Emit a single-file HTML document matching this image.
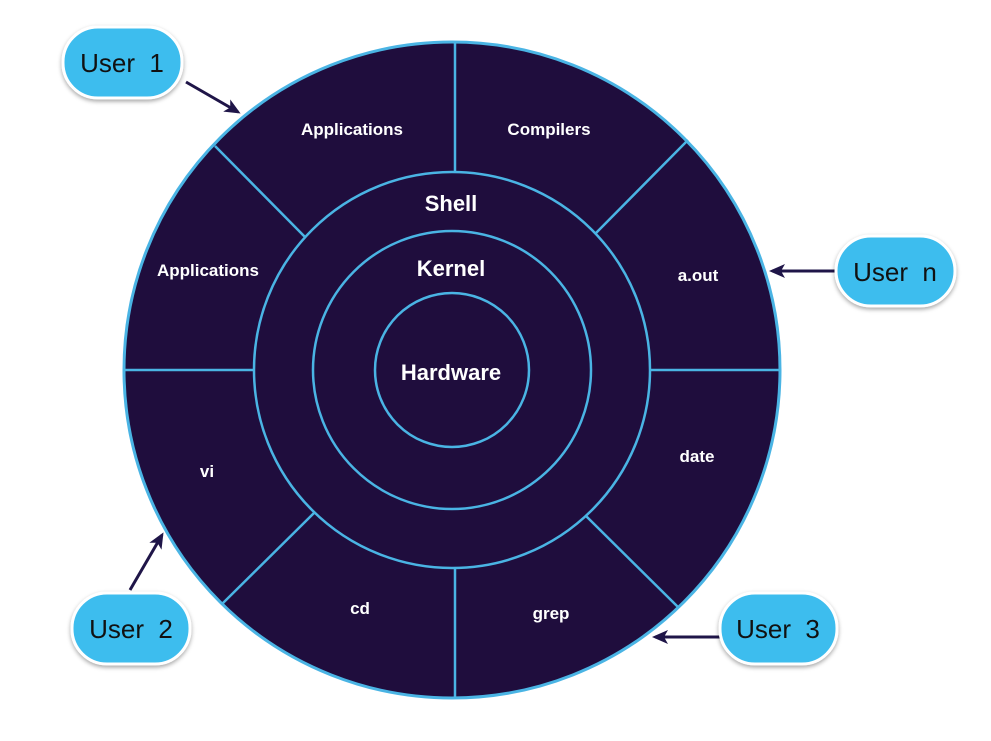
<!DOCTYPE html>
<html><head><meta charset="utf-8"><style>
html,body{margin:0;padding:0;background:#fff;}
svg{display:block}
text{font-family:"Liberation Sans",sans-serif;}
</style></head><body>
<svg width="991" height="741" viewBox="0 0 991 741" xmlns="http://www.w3.org/2000/svg">
<defs>
<marker id="ah" markerWidth="16" markerHeight="14" refX="13" refY="7" orient="auto" markerUnits="userSpaceOnUse">
<path d="M0,0 L16,7 L0,14 L4,7 Z" fill="#1f1548"/>
</marker>
<filter id="sh" x="-20%" y="-20%" width="140%" height="150%"><feDropShadow dx="0" dy="2" stdDeviation="2" flood-color="#000" flood-opacity="0.35"/></filter>
</defs>
<circle cx="452" cy="370" r="328" fill="#1f0d3d" stroke="#4ab4e4" stroke-width="3"/>
<g stroke="#4ab4e4" stroke-width="2.5" fill="none">
<circle cx="452" cy="370" r="198"/>
<circle cx="452" cy="370" r="139"/>
<circle cx="452" cy="370" r="77"/>
<line x1="455" y1="42" x2="455" y2="172"/>
<line x1="455" y1="568" x2="455" y2="698"/>
<line x1="124" y1="370" x2="254" y2="370"/>
<line x1="650" y1="370" x2="780" y2="370"/>
<line x1="215" y1="146" x2="305" y2="237"/>
<line x1="688" y1="140" x2="595" y2="234"/>
<line x1="222" y1="604" x2="315" y2="512"/>
<line x1="679" y1="608" x2="586" y2="516"/>
</g>
<g fill="#fff" font-weight="bold" text-anchor="middle">
<text x="352" y="135" font-size="17">Applications</text>
<text x="549" y="135" font-size="17">Compilers</text>
<text x="208" y="276" font-size="17">Applications</text>
<text x="698" y="281" font-size="17">a.out</text>
<text x="207" y="477" font-size="17">vi</text>
<text x="697" y="462" font-size="17">date</text>
<text x="360" y="614" font-size="17">cd</text>
<text x="551" y="619" font-size="17">grep</text>
<text x="451" y="211" font-size="22">Shell</text>
<text x="451" y="276" font-size="22">Kernel</text>
<text x="451" y="380" font-size="22">Hardware</text>
</g>
<g stroke="#1f1548" stroke-width="3" marker-end="url(#ah)">
<line x1="186" y1="82" x2="238" y2="112"/>
<line x1="836" y1="271" x2="772" y2="271"/>
<line x1="130" y1="590" x2="162" y2="535"/>
<line x1="720" y1="637" x2="655" y2="637"/>
</g>
<g fill="#3dbdee" stroke="#fff" stroke-width="3" filter="url(#sh)">
<rect x="63" y="27" width="119" height="71" rx="35"/>
<rect x="836" y="236" width="119" height="70" rx="35"/>
<rect x="72" y="593" width="118" height="71" rx="35"/>
<rect x="720" y="593" width="117" height="71" rx="35"/>
</g>
<g fill="#111" font-size="26" text-anchor="middle">
<text x="122" y="72">User&#160; 1</text>
<text x="895" y="281">User&#160; n</text>
<text x="131" y="638">User&#160; 2</text>
<text x="778" y="638">User&#160; 3</text>
</g>
</svg>
</body></html>
